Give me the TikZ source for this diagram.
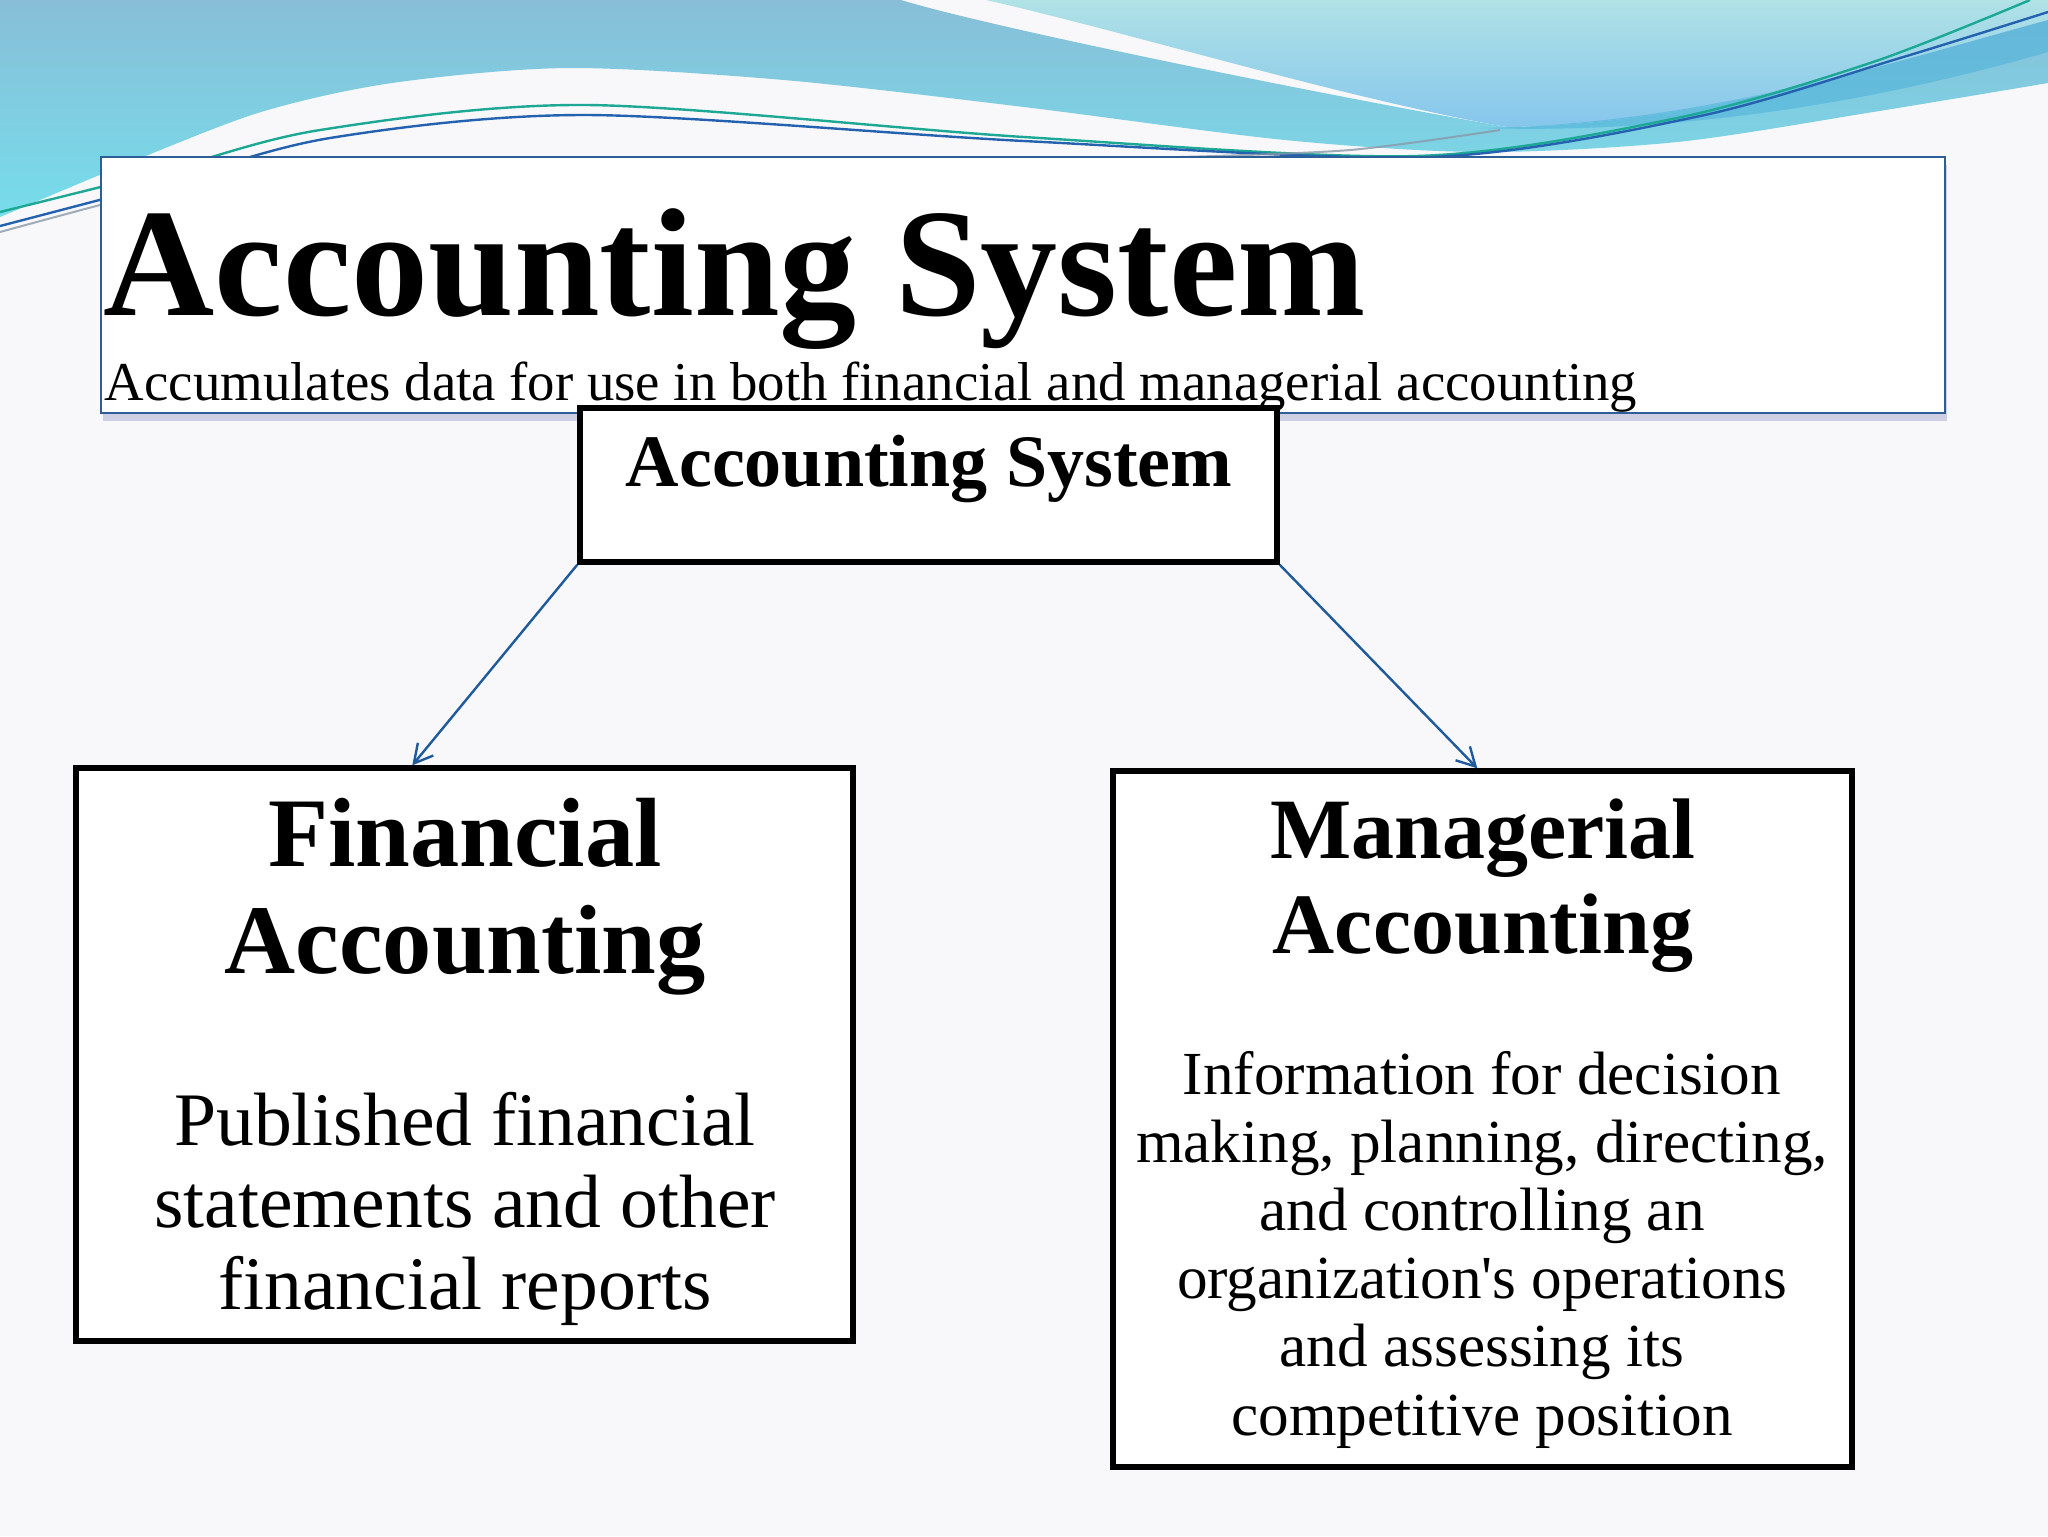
\documentclass[tikz,border=0pt]{standalone}
\usepackage{fontspec}
\setmainfont{Liberation Serif}
\usetikzlibrary{arrows.meta,shadows,calc}
\definecolor{bgc}{HTML}{F8F8FA}
\definecolor{steel}{HTML}{88BED8}
\definecolor{cyanb}{HTML}{76DDEA}
\definecolor{aqua}{HTML}{B0E2E6}
\definecolor{aquab}{HTML}{86C6EC}
\definecolor{darkband}{HTML}{4CB0DA}
\definecolor{linet}{HTML}{1CA894}
\definecolor{lineb}{HTML}{2462B0}
\definecolor{lineg}{HTML}{8A98A8}
\definecolor{arrowc}{HTML}{1F5A9C}
\definecolor{titleborder}{HTML}{2E5E98}
\tikzset{
  blackbox/.style={draw=black, line width=1.35pt, fill=white, inner sep=0pt},
  titlebox/.style={draw=titleborder, line width=0.5pt, fill=white, inner sep=0pt,
    drop shadow={opacity=0.35, shadow xshift=0.6pt, shadow yshift=-2pt, fill=black!50!blue!50}},
  conn/.style={draw=arrowc, line width=0.6pt, -{Straight Barb[length=4.6pt,width=5pt]}},
  txt/.style={inner sep=0pt, align=center, text=black},
}
\begin{document}
\begin{tikzpicture}[x=0.25pt,y=-0.25pt]
\useasboundingbox (0,0) rectangle (2048,1536);
\fill[bgc] (0,0) rectangle (2048,1536);
% aqua region (top right)
\shade[top color=aqua, bottom color=aquab]
  (986,0) -- (2048,0) -- (2048,20)
  .. controls (1900,60) and (1700,125) .. (1507,127)
  .. controls (1350,100) and (1120,30) .. (986,0) -- cycle;
% blue region (left + band)
\shade[top color=steel, bottom color=cyanb]
  (0,0) -- (901,0)
  .. controls (1000,30) and (1350,100) .. (1507,127)
  .. controls (1700,125) and (1900,60) .. (2048,20)
  -- (2048,83)
  -- plot[smooth] coordinates {(2048,83) (1873,112) (1677,142) (1481,152) (1285,140) (1024,107) (784,80) (568,68) (392,83) (261,112) (131,162) (0,217)}
  -- cycle;
% darker stripe along band
\fill[darkband, opacity=0.55]
  (1480,128) .. controls (1700,125) and (1900,60) .. (2048,20)
  -- (2048,52) .. controls (1900,95) and (1700,135) .. (1480,128) -- cycle;
% thin lines
\draw[linet, line width=0.6pt] plot[smooth] coordinates {(0,212) (160,172) (320,130) (588,105) (1024,137) (1416,156) (1677,118) (1873,62) (2030,0)};
\draw[lineb, line width=0.6pt] plot[smooth] coordinates {(0,226) (160,184) (330,138) (588,115) (1024,141) (1430,157) (1700,116) (1900,58) (2048,12)};
\draw[lineg, line width=0.5pt, opacity=0.8] plot[smooth] coordinates {(0,232) (150,192) (300,158)};
\draw[lineg, line width=0.5pt, opacity=0.8] plot[smooth] coordinates {(1180,157) (1350,150) (1500,130)};
% title box
\node[titlebox, minimum width=461pt, minimum height=64pt] (tb) at (1023,285) {};
\node[inner sep=0pt, anchor=base west, font=\fontsize{38.5pt}{42pt}\selectfont\bfseries] (title) at (103,315) {Accounting System};
\node[inner sep=0pt, anchor=base west, font=\fontsize{13.7pt}{16pt}\selectfont] (sub) at (104,400) {Accumulates data for use in both financial and managerial accounting};
% boxes
\node[blackbox, minimum width=174.25pt, minimum height=38.5pt] (ab) at (928.5,485) {};
\node[blackbox, minimum width=194.25pt, minimum height=143.25pt] (fb) at (464.5,1054.5) {};
\node[blackbox, minimum width=184.75pt, minimum height=174pt] (mb) at (1482.5,1119) {};
% texts (anchor base = last line)
\node[txt, anchor=base, font=\fontsize{18.5pt}{20pt}\selectfont\bfseries] (abt) at (929,486) {Accounting System};
\node[txt, anchor=base, font=\fontsize{24.6pt}{26.75pt}\selectfont\bfseries] (fbt) at (465,973) {Financial\\Accounting};
\node[txt, anchor=base, font=\fontsize{18.9pt}{20.5pt}\selectfont] (fbb) at (465,1309) {Published financial\\statements and other\\financial reports};
\node[txt, anchor=base, font=\fontsize{21.5pt}{23.75pt}\selectfont\bfseries] (mbt) at (1483,953) {Managerial\\Accounting};
\node[txt, anchor=base, font=\fontsize{15.3pt}{17.05pt}\selectfont] (mbb) at (1482,1435) {Information for decision\\making, planning, directing,\\and controlling an\\organization\textquotesingle s operations\\and assessing its\\competitive position};
% connectors
\draw[conn] (ab.south west) -- ($(fb.north west)+(339,0)$);
\draw[conn] (ab.south east) -- ($(mb.north west)+(367,0)$);
\end{tikzpicture}
\end{document}
